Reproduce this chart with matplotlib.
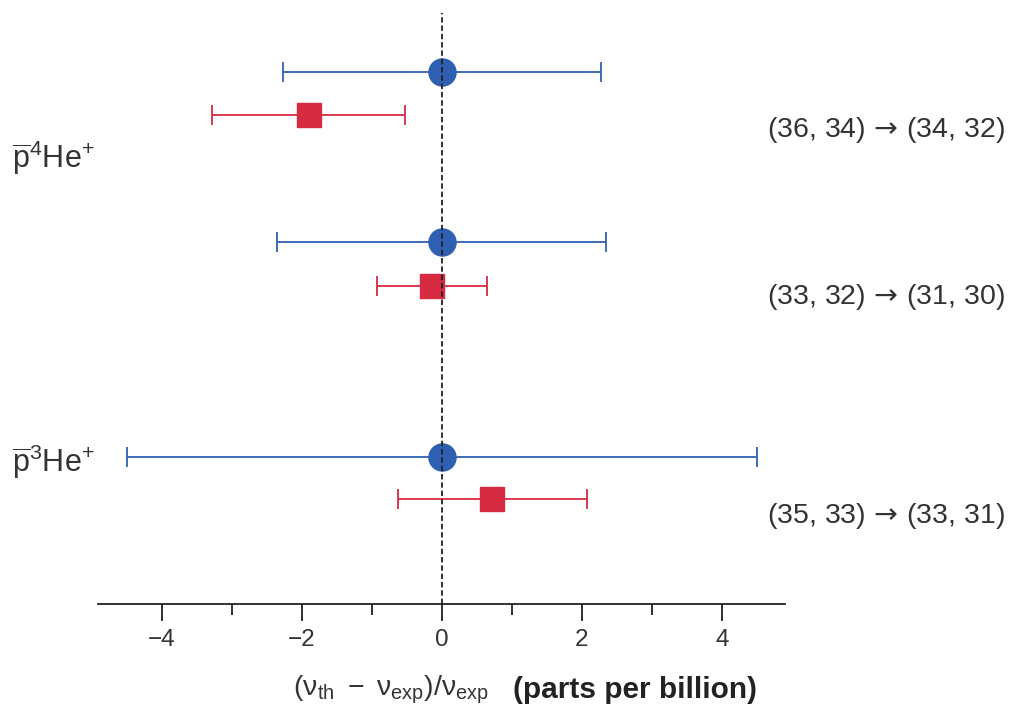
import matplotlib
matplotlib.use("Agg")
import matplotlib.pyplot as plt
from matplotlib.ticker import MultipleLocator

plt.rcParams['font.family'] = ['Liberation Sans', 'DejaVu Sans']
plt.rcParams['mathtext.fontset'] = 'custom'
plt.rcParams['mathtext.rm'] = 'Liberation Sans'
plt.rcParams['mathtext.it'] = 'Liberation Sans'
plt.rcParams['mathtext.bf'] = 'Liberation Sans:bold'
plt.rcParams['mathtext.sf'] = 'DejaVu Sans'

# Data (parts per billion)
theory_vals = [0.0, 0.0, 0.0]          # blue circles
theory_err = [2.27, 2.35, 4.50]
exp_vals = [-1.90, -0.14, 0.72]         # red squares
exp_err = [1.38, 0.79, 1.35]
transitions = [r"(36, 34)$\,\mathsf{\rightarrow}\,$(34, 32)",
               r"(33, 32)$\,\mathsf{\rightarrow}\,$(31, 30)",
               r"(35, 33)$\,\mathsf{\rightarrow}\,$(33, 31)"]
species = [r"$\overline{\mathrm{p}}^{4}\mathrm{He}^{+}$", r"$\overline{\mathrm{p}}^{3}\mathrm{He}^{+}$"]
xticks = [-4, -2, 0, 2, 4]

# vertical layout (row positions, top = 0)
blue_y = [72, 242, 457]
red_y = [115, 286, 499]
label_y = [130, 297, 516]
species_y = [158, 462]

BLUE = '#2f5fb1'
RED = '#d72a43'

fig = plt.figure(figsize=(10.14, 7.09), dpi=100)
ax = fig.add_axes([98/1014, (709-604)/709, (785-98)/1014, 604/709])
ax.set_xlim(-4.91, 4.9)
ax.set_ylim(604, 0)

ax.errorbar(theory_vals, blue_y, xerr=theory_err, fmt='o', color=BLUE, ms=19.5,
            elinewidth=1.3, capsize=7.5, capthick=1.3, zorder=3)
ax.errorbar(exp_vals, red_y, xerr=exp_err, fmt='s', color=RED, ms=17.5,
            elinewidth=1.3, capsize=7.5, capthick=1.3, zorder=3)

ax.plot([0, 0], [604, 13], color='#222222', lw=1.3, ls=(0, (3, 1.6)), zorder=4)

for s in ['top', 'right', 'left']:
    ax.spines[s].set_visible(False)
ax.spines['bottom'].set_linewidth(1.3)
ax.spines['bottom'].set_color('#222222')
ax.set_yticks([])
ax.set_xticks(xticks)
ax.set_xticklabels([("\u2212%d" % -t) if t < 0 else str(t) for t in xticks])
ax.xaxis.set_minor_locator(MultipleLocator(1))
ax.tick_params(axis='x', which='major', length=12, width=1.3, color='#222222',
               labelsize=17.5, labelcolor='#333333', pad=6)
ax.tick_params(axis='x', which='minor', length=8, width=1.3, color='#222222')

for t, y in zip(transitions, label_y):
    fig.text(1005/1014, 1 - y/709, t, ha='right', va='center', fontsize=20.5, color='#333333')

for s, y in zip(species, species_y):
    fig.text(12/1014, 1 - y/709, s, ha='left', va='center', fontsize=22, color='#333333')

fig.text(293/1014, 1 - 690/709,
         r"$(\mathrm{\nu}_{\mathrm{th}}\ -\ \mathrm{\nu}_{\mathrm{exp}})/\mathrm{\nu}_{\mathrm{exp}}$",
         ha='left', va='center', fontsize=20.5, color='#333333')
fig.text(757/1014, 1 - 690/709, "(parts per billion)", ha='right', va='center',
         fontsize=21.5, fontweight='bold', color='#222222')

fig.savefig('out.png', dpi=100)
